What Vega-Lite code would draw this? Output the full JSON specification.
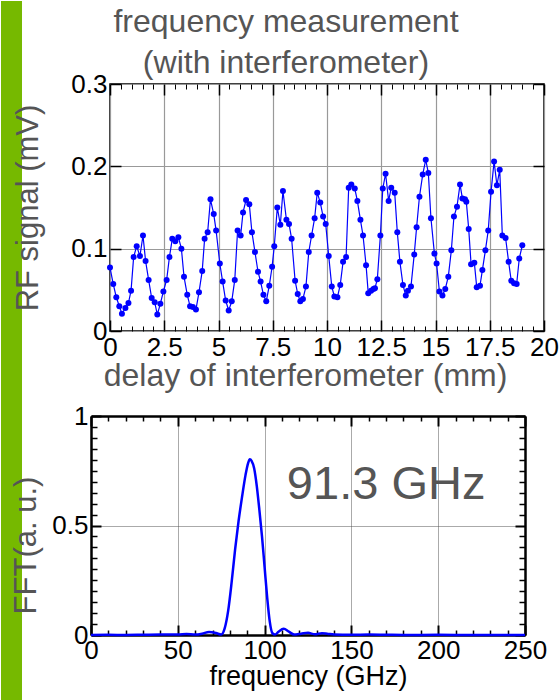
{
  "$schema": "https://vega.github.io/schema/vega-lite/v6.json",
  "padding": 0,
  "background": "white",
  "config": {"font": "Liberation Sans", "view": {"stroke": null}},
  "datasets": {
    "signal": [
      {"delay":0.00,"signal":0.077},{"delay":0.15,"signal":0.057},{"delay":0.29,"signal":0.041},{"delay":0.43,"signal":0.030},{"delay":0.55,"signal":0.021},{"delay":0.71,"signal":0.028},{"delay":0.85,"signal":0.034},{"delay":0.97,"signal":0.049},{"delay":1.09,"signal":0.090},{"delay":1.23,"signal":0.103},{"delay":1.38,"signal":0.091},{"delay":1.52,"signal":0.116},{"delay":1.64,"signal":0.085},{"delay":1.78,"signal":0.062},{"delay":1.92,"signal":0.040},{"delay":2.06,"signal":0.035},{"delay":2.18,"signal":0.020},{"delay":2.32,"signal":0.033},{"delay":2.46,"signal":0.048},{"delay":2.61,"signal":0.062},{"delay":2.74,"signal":0.090},{"delay":2.87,"signal":0.112},{"delay":3.01,"signal":0.109},{"delay":3.15,"signal":0.114},{"delay":3.29,"signal":0.100},{"delay":3.41,"signal":0.066},{"delay":3.56,"signal":0.044},{"delay":3.69,"signal":0.030},{"delay":3.82,"signal":0.029},{"delay":3.96,"signal":0.026},{"delay":4.10,"signal":0.047},{"delay":4.25,"signal":0.073},{"delay":4.36,"signal":0.112},{"delay":4.50,"signal":0.120},{"delay":4.63,"signal":0.160},{"delay":4.78,"signal":0.142},{"delay":4.89,"signal":0.122},
      {"delay":5.06,"signal":0.082},{"delay":5.19,"signal":0.060},{"delay":5.33,"signal":0.037},{"delay":5.47,"signal":0.025},{"delay":5.61,"signal":0.036},{"delay":5.75,"signal":0.062},{"delay":5.88,"signal":0.122},{"delay":6.02,"signal":0.116},{"delay":6.13,"signal":0.144},{"delay":6.27,"signal":0.159},{"delay":6.42,"signal":0.154},{"delay":6.54,"signal":0.120},{"delay":6.68,"signal":0.096},{"delay":6.82,"signal":0.072},{"delay":6.94,"signal":0.060},{"delay":7.07,"signal":0.044},{"delay":7.20,"signal":0.036},{"delay":7.34,"signal":0.055},{"delay":7.47,"signal":0.078},{"delay":7.57,"signal":0.103},{"delay":7.71,"signal":0.150},{"delay":7.85,"signal":0.129},{"delay":7.97,"signal":0.170},{"delay":8.13,"signal":0.135},{"delay":8.25,"signal":0.130},{"delay":8.37,"signal":0.112},{"delay":8.53,"signal":0.061},{"delay":8.65,"signal":0.045},{"delay":8.77,"signal":0.036},{"delay":8.89,"signal":0.039},{"delay":9.03,"signal":0.054},{"delay":9.16,"signal":0.096},{"delay":9.29,"signal":0.116},{"delay":9.43,"signal":0.137},{"delay":9.55,"signal":0.168},{"delay":9.69,"signal":0.156},
      {"delay":9.82,"signal":0.139},{"delay":9.94,"signal":0.130},{"delay":10.08,"signal":0.091},{"delay":10.22,"signal":0.054},{"delay":10.34,"signal":0.042},{"delay":10.48,"signal":0.041},{"delay":10.61,"signal":0.056},{"delay":10.74,"signal":0.084},{"delay":10.88,"signal":0.090},{"delay":11.00,"signal":0.174},{"delay":11.12,"signal":0.178},{"delay":11.28,"signal":0.173},{"delay":11.40,"signal":0.158},{"delay":11.54,"signal":0.135},{"delay":11.66,"signal":0.116},{"delay":11.80,"signal":0.080},{"delay":11.90,"signal":0.046},{"delay":12.03,"signal":0.049},{"delay":12.14,"signal":0.051},{"delay":12.21,"signal":0.052},{"delay":12.32,"signal":0.063},{"delay":12.46,"signal":0.116},{"delay":12.57,"signal":0.173},{"delay":12.70,"signal":0.191},{"delay":12.84,"signal":0.158},{"delay":12.96,"signal":0.174},{"delay":13.12,"signal":0.168},{"delay":13.24,"signal":0.120},{"delay":13.36,"signal":0.084},{"delay":13.50,"signal":0.056},{"delay":13.63,"signal":0.043},{"delay":13.73,"signal":0.049},{"delay":13.87,"signal":0.054},{"delay":14.02,"signal":0.093},{"delay":14.13,"signal":0.126},{"delay":14.26,"signal":0.163},{"delay":14.41,"signal":0.190},{"delay":14.55,"signal":0.208},{"delay":14.67,"signal":0.192},{"delay":14.79,"signal":0.137},
      {"delay":14.95,"signal":0.094},{"delay":15.05,"signal":0.082},{"delay":15.18,"signal":0.048},{"delay":15.32,"signal":0.043},{"delay":15.45,"signal":0.051},{"delay":15.59,"signal":0.066},{"delay":15.73,"signal":0.098},{"delay":15.85,"signal":0.139},{"delay":15.99,"signal":0.151},{"delay":16.13,"signal":0.178},{"delay":16.24,"signal":0.161},{"delay":16.36,"signal":0.160},{"delay":16.42,"signal":0.157},{"delay":16.53,"signal":0.124},{"delay":16.64,"signal":0.081},{"delay":16.79,"signal":0.083},{"delay":16.90,"signal":0.053},{"delay":17.05,"signal":0.055},{"delay":17.16,"signal":0.074},{"delay":17.30,"signal":0.098},{"delay":17.43,"signal":0.122},{"delay":17.56,"signal":0.169},{"delay":17.70,"signal":0.206},{"delay":17.83,"signal":0.177},{"delay":17.96,"signal":0.196},{"delay":18.08,"signal":0.116},{"delay":18.23,"signal":0.113},{"delay":18.37,"signal":0.084},{"delay":18.49,"signal":0.061},{"delay":18.62,"signal":0.058},{"delay":18.74,"signal":0.057},{"delay":18.86,"signal":0.088},{"delay":19.00,"signal":0.104}
    ],
    "fft": [
      {"freq":0,"fft":0.0},{"freq":10,"fft":0.001},{"freq":20,"fft":0.0},{"freq":30,"fft":0.001},{"freq":40,"fft":0.002},{"freq":50,"fft":0.002},{"freq":55,"fft":0.004},{"freq":60,"fft":0.002},{"freq":64,"fft":0.006},{"freq":68,"fft":0.014},{"freq":72,"fft":0.009},{"freq":75,"fft":0.002},{"freq":77,"fft":0.03},{"freq":79,"fft":0.11},{"freq":81,"fft":0.24},{"freq":83,"fft":0.39},{"freq":85,"fft":0.52},{"freq":87,"fft":0.63},{"freq":89,"fft":0.73},{"freq":90.5,"fft":0.785},{"freq":91.5,"fft":0.802},{"freq":92.5,"fft":0.795},{"freq":94,"fft":0.76},{"freq":95.5,"fft":0.68},{"freq":97,"fft":0.57},{"freq":98.5,"fft":0.45},{"freq":100,"fft":0.31},{"freq":101.5,"fft":0.17},{"freq":103,"fft":0.06},{"freq":104.5,"fft":0.008},{"freq":106,"fft":0.002},{"freq":108,"fft":0.015},{"freq":111,"fft":0.028},{"freq":114,"fft":0.015},{"freq":117,"fft":0.002},{"freq":121,"fft":0.006},{"freq":125,"fft":0.01},{"freq":129,"fft":0.003},{"freq":133,"fft":0.008},{"freq":136,"fft":0.006},{"freq":140,"fft":0.002},{"freq":150,"fft":0.001},{"freq":160,"fft":0.002},{"freq":170,"fft":0.001},{"freq":180,"fft":0.0},{"freq":200,"fft":0.001},{"freq":220,"fft":0.0},{"freq":250,"fft":0.0}
    ]
  },
  "bounds": "flush",
  "spacing": 85,
  "vconcat": [
    {
      "width": 434, "height": 247,
      "view": {"stroke": "black", "strokeWidth": 1.5},
      "title": {"text": ["frequency measurement", "(with interferometer)"], "frame": "group", "fontSize": 32, "color": "#555555", "fontWeight": "normal", "anchor": "middle", "dx": -41, "lineHeight": 41, "offset": -79},
      "resolve": {"axis": {"x": "independent", "y": "independent"}},
      "layer": [
        {
          "data": {"values": [{"band": "side bar"}]},
          "mark": {"type": "rect", "color": "#76b900"},
          "encoding": {
            "x": {"datum": -5.023, "type": "quantitative", "scale": {"domain": [0, 20], "nice": false}, "axis": null},
            "x2": {"datum": -4.055},
            "y": {"datum": 0.4008, "type": "quantitative", "scale": {"domain": [0, 0.3], "nice": false}, "axis": null},
            "y2": {"datum": -0.4494}
          }
        },
        {
          "data": {"name": "signal"},
          "mark": {"type": "line", "color": "#0000ff", "strokeWidth": 1.2, "point": {"filled": true, "size": 36, "color": "#0000ff"}},
          "encoding": {
            "x": {"field": "delay", "type": "quantitative", "scale": {"domain": [0, 20], "nice": false},
              "axis": {"orient": "bottom", "zindex": 1, "values": [0,2.5,5,7.5,10,12.5,15,17.5,20], "format": ".3~g", "grid": false, "ticks": false, "domain": false, "labelFontSize": 26, "labelColor": "black", "labelPadding": 3, "labelFlush": false, "title": "delay of interferometer (mm)", "titleFontSize": 32, "titleFontWeight": "normal", "titleColor": "#555555", "titlePadding": 0, "titleX": 195}},
            "y": {"field": "signal", "type": "quantitative", "scale": {"domain": [0, 0.3], "nice": false},
              "axis": {"orient": "left", "zindex": 1, "values": [0,0.1,0.2,0.3], "format": ".2~g", "grid": false, "ticks": false, "domain": false, "labelFontSize": 26, "labelColor": "black", "labelPadding": 3, "labelFlush": false, "title": "RF signal (mV)", "titleFontSize": 31, "titleFontWeight": "normal", "titleColor": "#555555", "titlePadding": 26}}
          }
        },
        {
          "data": {"name": "signal"},
          "mark": {"type": "point", "opacity": 0},
          "encoding": {
            "x": {"field": "delay", "type": "quantitative", "axis": {"orient": "bottom", "values": [0,2.5,5,7.5,10,12.5,15,17.5,20], "labels": false, "grid": true, "gridColor": "#999999", "gridWidth": 1.2, "domain": false, "title": null, "tickSize": -11, "tickColor": "black", "tickWidth": 1.5}},
            "y": {"field": "signal", "type": "quantitative", "axis": {"orient": "left", "values": [0,0.1,0.2,0.3], "labels": false, "grid": true, "gridColor": "#999999", "gridWidth": 1.2, "domain": false, "title": null, "tickSize": -11, "tickColor": "black", "tickWidth": 1.5}}
          }
        },
        {
          "data": {"name": "signal"},
          "mark": {"type": "point", "opacity": 0},
          "encoding": {
            "x": {"field": "delay", "type": "quantitative", "axis": {"orient": "top", "values": [0,2.5,5,7.5,10,12.5,15,17.5,20], "labels": false, "grid": false, "domain": false, "title": null, "tickSize": -11, "tickColor": "black", "tickWidth": 1.5}},
            "y": {"field": "signal", "type": "quantitative", "axis": {"orient": "right", "values": [0,0.1,0.2,0.3], "labels": false, "grid": false, "domain": false, "title": null, "tickSize": -11, "tickColor": "black", "tickWidth": 1.5}}
          }
        },
        {
          "data": {"name": "signal"},
          "mark": {"type": "point", "opacity": 0},
          "encoding": {
            "x": {"field": "delay", "type": "quantitative", "axis": {"orient": "bottom", "values": [0.5,1,1.5,2,3,3.5,4,4.5,5.5,6,6.5,7,8,8.5,9,9.5,10.5,11,11.5,12,13,13.5,14,14.5,15.5,16,16.5,17,18,18.5,19,19.5], "labels": false, "grid": false, "domain": false, "title": null, "tickSize": -5, "tickColor": "black", "tickWidth": 1}},
            "y": {"field": "signal", "type": "quantitative", "axis": null}
          }
        },
        {
          "data": {"name": "signal"},
          "mark": {"type": "point", "opacity": 0},
          "encoding": {
            "x": {"field": "delay", "type": "quantitative", "axis": {"orient": "top", "values": [0.5,1,1.5,2,3,3.5,4,4.5,5.5,6,6.5,7,8,8.5,9,9.5,10.5,11,11.5,12,13,13.5,14,14.5,15.5,16,16.5,17,18,18.5,19,19.5], "labels": false, "grid": false, "domain": false, "title": null, "tickSize": -5, "tickColor": "black", "tickWidth": 1}},
            "y": {"field": "signal", "type": "quantitative", "axis": null}
          }
        }
      ]
    },
    {
      "width": 434, "height": 219,
      "view": {"stroke": null},
      "resolve": {"axis": {"x": "independent", "y": "independent"}},
      "layer": [
        {
          "data": {"name": "fft"},
          "mark": {"type": "line", "color": "#0000ff", "strokeWidth": 2.5, "interpolate": "monotone"},
          "encoding": {
            "x": {"field": "freq", "type": "quantitative", "scale": {"domain": [0, 250], "range": [-19, 415], "nice": false},
              "axis": {"orient": "bottom", "values": [0,50,100,150,200,250], "grid": true, "gridColor": "#555555", "gridDash": [1,1], "gridWidth": 1, "ticks": false, "domain": false, "labelFontSize": 26, "labelColor": "black", "labelPadding": 2, "labelFlush": false, "title": "frequency (GHz)", "titleFontSize": 27, "titleFontWeight": "normal", "titleColor": "black", "titlePadding": 0}},
            "y": {"field": "fft", "type": "quantitative", "scale": {"domain": [0, 1], "nice": false},
              "axis": {"orient": "left", "offset": 19, "values": [0,0.5,1], "format": ".2~g", "grid": true, "gridColor": "#555555", "gridDash": [1,1], "gridWidth": 1, "ticks": false, "domain": false, "labelFontSize": 26, "labelColor": "black", "labelPadding": 3, "labelFlush": false, "title": "FFT(a. u.)", "titleFontSize": 31, "titleFontWeight": "normal", "titleColor": "#555555", "titlePadding": 9, "titleY": 129}}
          }
        },
        {
          "data": {"name": "fft"},
          "mark": {"type": "point", "opacity": 0},
          "encoding": {
            "x": {"field": "freq", "type": "quantitative", "axis": {"orient": "bottom", "values": [0,50,100,150,200,250], "labels": false, "grid": false, "domain": true, "domainColor": "black", "domainWidth": 2.5, "title": null, "tickSize": -10, "tickColor": "black", "tickWidth": 2}},
            "y": {"field": "fft", "type": "quantitative", "axis": {"orient": "left", "offset": 19, "values": [0,0.5,1], "labels": false, "grid": false, "domain": true, "domainColor": "black", "domainWidth": 2.5, "title": null, "tickSize": -10, "tickColor": "black", "tickWidth": 2}}
          }
        },
        {
          "data": {"name": "fft"},
          "mark": {"type": "point", "opacity": 0},
          "encoding": {
            "x": {"field": "freq", "type": "quantitative", "axis": {"orient": "top", "values": [0,50,100,150,200,250], "labels": false, "grid": false, "domain": true, "domainColor": "black", "domainWidth": 2.5, "title": null, "tickSize": -10, "tickColor": "black", "tickWidth": 2}},
            "y": {"field": "fft", "type": "quantitative", "axis": {"orient": "right", "offset": -19, "values": [0,0.5,1], "labels": false, "grid": false, "domain": true, "domainColor": "black", "domainWidth": 2.5, "title": null, "tickSize": -10, "tickColor": "black", "tickWidth": 2}}
          }
        },
        {
          "data": {"name": "fft"},
          "mark": {"type": "point", "opacity": 0},
          "encoding": {
            "x": {"field": "freq", "type": "quantitative", "axis": {"orient": "bottom", "values": [10,20,30,40,60,70,80,90,110,120,130,140,160,170,180,190,210,220,230,240], "labels": false, "grid": false, "domain": false, "title": null, "tickSize": -5, "tickColor": "black", "tickWidth": 1.5}},
            "y": {"field": "fft", "type": "quantitative", "axis": {"orient": "left", "offset": 19, "values": [0.05,0.1,0.15,0.2,0.25,0.3,0.35,0.4,0.45,0.55,0.6,0.65,0.7,0.75,0.8,0.85,0.9,0.95], "labels": false, "grid": false, "domain": false, "title": null, "tickSize": -6, "tickColor": "black", "tickWidth": 1.5}}
          }
        },
        {
          "data": {"name": "fft"},
          "mark": {"type": "point", "opacity": 0},
          "encoding": {
            "x": {"field": "freq", "type": "quantitative", "axis": {"orient": "top", "values": [10,20,30,40,60,70,80,90,110,120,130,140,160,170,180,190,210,220,230,240], "labels": false, "grid": false, "domain": false, "title": null, "tickSize": -5, "tickColor": "black", "tickWidth": 1.5}},
            "y": {"field": "fft", "type": "quantitative", "axis": {"orient": "right", "offset": -19, "values": [0.05,0.1,0.15,0.2,0.25,0.3,0.35,0.4,0.45,0.55,0.6,0.65,0.7,0.75,0.8,0.85,0.9,0.95], "labels": false, "grid": false, "domain": false, "title": null, "tickSize": -6, "tickColor": "black", "tickWidth": 1.5}}
          }
        },
        {
          "data": {"values": [{"label": "91.3 GHz"}]},
          "mark": {"type": "text", "fontSize": 47, "color": "#555555", "align": "center", "baseline": "alphabetic"},
          "encoding": {
            "text": {"field": "label"},
            "x": {"datum": 170, "type": "quantitative", "axis": null},
            "y": {"datum": 0.621, "type": "quantitative", "axis": null}
          }
        }
      ]
    }
  ]
}
